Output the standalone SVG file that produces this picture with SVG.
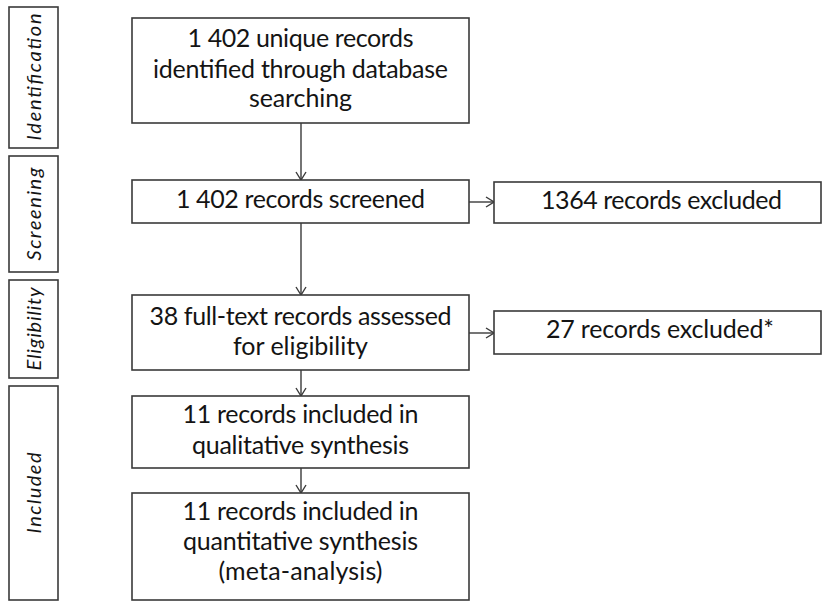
<svg xmlns="http://www.w3.org/2000/svg" width="822" height="601" viewBox="0 0 822 601">
  <style>
    .box { fill: #ffffff; stroke: #3a3a3a; stroke-width: 1.6; }
    .txt { font-family: Lato, "Liberation Sans", sans-serif; font-size: 25px; fill: #141414; text-anchor: middle; }
    .stage { font-family: Lato, "Liberation Sans", sans-serif; font-size: 20px; font-style: italic; fill: #141414; text-anchor: middle; }
    .conn { stroke: #3a3a3a; stroke-width: 1.4; fill: none; }
  </style>
  <defs>
    <marker id="arrow" viewBox="0 0 12 12" refX="11" refY="6" markerWidth="12" markerHeight="12" markerUnits="userSpaceOnUse" orient="auto">
      <polyline points="3,1 11,6 3,11" fill="none" stroke="#3a3a3a" stroke-width="1.4"/>
    </marker>
  </defs>
  <rect width="822" height="601" fill="#ffffff"/>

  <!-- stage labels -->
  <g id="stage-identification">
    <rect class="box" x="9" y="7" width="49" height="141"/>
    <text class="stage" transform="translate(41,77) rotate(-90)" textLength="127">Identification</text>
  </g>
  <g id="stage-screening">
    <rect class="box" x="9" y="156" width="49" height="116"/>
    <text class="stage" transform="translate(41,214) rotate(-90)" textLength="93">Screening</text>
  </g>
  <g id="stage-eligibility">
    <rect class="box" x="9" y="280" width="49" height="98"/>
    <text class="stage" transform="translate(41,329) rotate(-90)" textLength="83">Eligibility</text>
  </g>
  <g id="stage-included">
    <rect class="box" x="9" y="386" width="49" height="214"/>
    <text class="stage" transform="translate(41,493) rotate(-90)" textLength="81">Included</text>
  </g>

  <!-- connectors -->
  <g id="connectors">
    <line class="conn" x1="301" y1="123" x2="301" y2="180" marker-end="url(#arrow)"/>
    <line class="conn" x1="301" y1="223" x2="301" y2="295" marker-end="url(#arrow)"/>
    <line class="conn" x1="301" y1="370" x2="301" y2="396" marker-end="url(#arrow)"/>
    <line class="conn" x1="301" y1="468" x2="301" y2="493" marker-end="url(#arrow)"/>
    <line class="conn" x1="469" y1="202" x2="494" y2="202" marker-end="url(#arrow)"/>
    <line class="conn" x1="469" y1="333" x2="494" y2="333" marker-end="url(#arrow)"/>
  </g>

  <!-- flow boxes -->
  <g id="identified">
    <rect class="box" x="132" y="18" width="337" height="105"/>
    <text class="txt" x="300.5" y="47" textLength="226">1 402 unique records</text>
    <text class="txt" x="300.5" y="78" textLength="295">identified through database</text>
    <text class="txt" x="300.5" y="107" textLength="103">searching</text>
  </g>
  <g id="screened">
    <rect class="box" x="132" y="180" width="337" height="43"/>
    <text class="txt" x="300.5" y="208" textLength="249">1 402 records screened</text>
  </g>
  <g id="excluded-screening">
    <rect class="box" x="494" y="182" width="327" height="41"/>
    <text class="txt" x="661.5" y="209" textLength="241">1364 records excluded</text>
  </g>
  <g id="full-text">
    <rect class="box" x="132" y="295" width="337" height="75"/>
    <text class="txt" x="300.5" y="325" textLength="302">38 full-text records assessed</text>
    <text class="txt" x="300.5" y="355" textLength="135">for eligibility</text>
  </g>
  <g id="excluded-eligibility">
    <rect class="box" x="494" y="311" width="327" height="43"/>
    <text class="txt" x="660" y="338" textLength="228">27 records excluded*</text>
  </g>
  <g id="qualitative">
    <rect class="box" x="132" y="396" width="337" height="72"/>
    <text class="txt" x="300.5" y="423" textLength="236">11 records included in</text>
    <text class="txt" x="300.5" y="454" textLength="217">qualitative synthesis</text>
  </g>
  <g id="quantitative">
    <rect class="box" x="132" y="493" width="337" height="107"/>
    <text class="txt" x="300.5" y="520" textLength="236">11 records included in</text>
    <text class="txt" x="300.5" y="550" textLength="235">quantitative synthesis</text>
    <text class="txt" x="300.5" y="580" textLength="164">(meta-analysis)</text>
  </g>
</svg>
